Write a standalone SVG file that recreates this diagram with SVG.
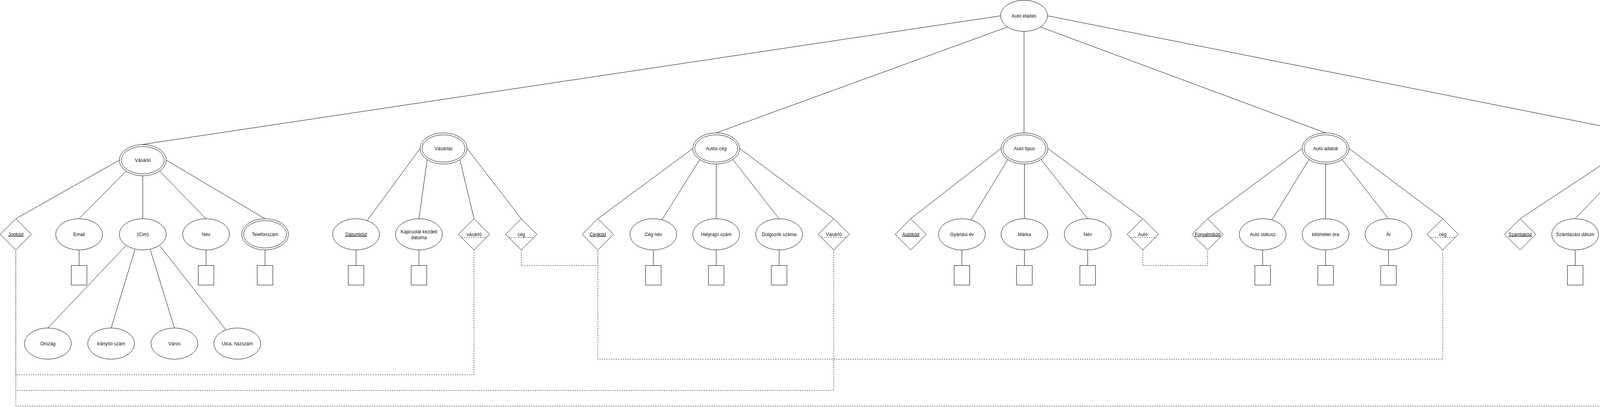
<svg xmlns="http://www.w3.org/2000/svg" width="4531" height="1043" viewBox="0 0 4531 1043">
<style>
.s{fill:#fff;stroke:#000;stroke-width:1}
.c{fill:none;stroke:#000;stroke-width:1}
.d{fill:none;stroke:#000;stroke-width:1;stroke-dasharray:3 3}
text{font-family:"Liberation Sans",Arial,Helvetica,sans-serif;font-size:12px;fill:#111;text-anchor:middle}
.u{text-decoration:underline}
</style>
<rect width="4531" height="1043" fill="#fff"/>
<g transform="translate(0.5,0.5)">
<g id="connectors">
<path class="c" d="M2561,40L362,370M2578,69L1833,340M2621,80L2621,340M2664,69L3393,340M2681,40L4213,345"/>
<path class="c" d="M305,410L40,560M322,438L202,560M365,450L365,560M408,438L527,560M425,410L678,560M202,640L202,680M527,640L527,680M678,640L678,680M321,630L122,840M345,639L284,840M384,639L446,840M409,630L578,845"/>
<path class="c" d="M1075,380L940,564M1093,409L1072,560M1177,409L1213,560M1195,380L1334,560M911,640L911,680M1072,640L1072,680"/>
<path class="c" d="M1773,380L1530,560M1791,408L1694,563M1833,420L1833,560M1876,409L1994,560M1893,380L2134,560M1672,640L1672,680M1833,640L1833,680M1994,640L1994,680"/>
<path class="c" d="M2562,380L2331,560M2579,409L2485,564M2622,420L2622,560M2665,409L2784,560M2682,380L2925,560M2462,640L2462,680M2622,640L2622,680M2784,640L2784,680"/>
<path class="c" d="M3333,380L3091,560M3350,409L3255,564M3393,420L3393,560M3436,409L3554,560M3453,380L3693,560M3232,640L3232,680M3393,640L3393,680M3554,640L3554,680"/>
<path class="c" d="M4153,387L3891,560M4171,414L4032,560M4213,425L4193,560M4256,414L4334,563M4273,387L4490,560M4032,640L4032,680M4193,640L4193,680M4354,640L4354,680"/>
<path class="d" d="M1213,640L1213,960L40,960L40,640"/>
<path class="d" d="M1334,640L1334,680L1530,680L1530,640"/>
<path class="d" d="M2134,640L2134,1000L40,1000L40,640"/>
<path class="d" d="M2925,640L2925,680L3091,680L3091,640"/>
<path class="d" d="M3693,640L3693,920L1530,920L1530,640"/>
<path class="d" d="M4490,640L4490,1040L40,1040L40,640"/>
</g>
<g id="auto-eladas"><ellipse class="s" cx="2621" cy="40" rx="60" ry="40"/><text x="2621" y="44">Autó eladás</text></g>

<g id="vasarlo"><ellipse class="s" cx="365" cy="410" rx="60" ry="40"/><ellipse class="s" cx="365" cy="410" rx="55" ry="35"/><text x="365" y="414">Vásárló</text></g>
<g id="jogkod"><path class="s" d="M40,560L80,600L40,640L0,600Z"/><text class="u" x="40" y="604">Jogkód</text></g>
<g id="email"><ellipse class="s" cx="202" cy="600" rx="60" ry="40"/><text x="202" y="604">Email</text><rect class="s" x="182" y="680" width="40" height="50"/></g>
<g id="cim"><ellipse class="s" cx="365" cy="600" rx="60" ry="40"/><text x="365" y="604">(Cím)</text></g>
<g id="nev1"><ellipse class="s" cx="527" cy="600" rx="60" ry="40"/><text x="527" y="604">Név</text><rect class="s" x="507" y="680" width="40" height="50"/></g>
<g id="telefonszam"><ellipse class="s" cx="678" cy="600" rx="60" ry="40"/><ellipse class="s" cx="678" cy="600" rx="55" ry="35"/><text x="678" y="604">Telefonszám</text><rect class="s" x="658" y="680" width="40" height="50"/></g>
<g id="orszag"><ellipse class="s" cx="122" cy="880" rx="60" ry="40"/><text x="122" y="884">Ország</text></g>
<g id="iranyitoszam"><ellipse class="s" cx="284" cy="880" rx="60" ry="40"/><text x="284" y="884">Irányító szám</text></g>
<g id="varos"><ellipse class="s" cx="446" cy="880" rx="60" ry="40"/><text x="446" y="884">Város</text></g>
<g id="utca"><ellipse class="s" cx="607" cy="880" rx="60" ry="40"/><text x="607" y="884">Utca, házszám</text></g>

<g id="vasarlas"><ellipse class="s" cx="1135" cy="380" rx="60" ry="40"/><ellipse class="s" cx="1135" cy="380" rx="55" ry="35"/><text x="1135" y="384">Vásárlás</text></g>
<g id="datumkod"><ellipse class="s" cx="911" cy="600" rx="60" ry="40"/><text class="u" x="911" y="604">Dátumkód</text><rect class="s" x="891" y="680" width="40" height="50"/></g>
<g id="kapcsolat"><ellipse class="s" cx="1072" cy="600" rx="60" ry="40"/><text x="1072" y="597">Kapcsolat kezdeti</text><text x="1072" y="612">dátuma</text><rect class="s" x="1052" y="680" width="40" height="50"/></g>
<g id="vasarlo-rel1"><path class="s" d="M1213,560L1253,600L1213,640L1173,600Z"/><text x="1213" y="604">vásárló</text><path class="d" d="M1181,608H1245"/></g>
<g id="ceg-rel1"><path class="s" d="M1334,560L1374,600L1334,640L1294,600Z"/><text x="1334" y="604">cég</text><path class="d" d="M1302,608H1366"/></g>

<g id="autos-ceg"><ellipse class="s" cx="1833" cy="380" rx="60" ry="40"/><ellipse class="s" cx="1833" cy="380" rx="55" ry="35"/><text x="1833" y="384">Autós cég</text></g>
<g id="cegkod"><path class="s" d="M1530,560L1570,600L1530,640L1490,600Z"/><text class="u" x="1530" y="604">Cégkód</text></g>
<g id="ceg-nev"><ellipse class="s" cx="1672" cy="600" rx="60" ry="40"/><text x="1672" y="604">Cég név</text><rect class="s" x="1652" y="680" width="40" height="50"/></g>
<g id="helyrajzi"><ellipse class="s" cx="1833" cy="600" rx="60" ry="40"/><text x="1833" y="604">Helyrajzi szám</text><rect class="s" x="1813" y="680" width="40" height="50"/></g>
<g id="dolgozok"><ellipse class="s" cx="1994" cy="600" rx="60" ry="40"/><text x="1994" y="604">Dolgozók száma</text><rect class="s" x="1974" y="680" width="40" height="50"/></g>
<g id="vasarlo-rel2"><path class="s" d="M2134,560L2174,600L2134,640L2094,600Z"/><text x="2134" y="604">Vásárló</text><path class="d" d="M2102,608H2166"/></g>

<g id="auto-tipus"><ellipse class="s" cx="2622" cy="380" rx="60" ry="40"/><ellipse class="s" cx="2622" cy="380" rx="55" ry="35"/><text x="2622" y="384">Autó típus</text></g>
<g id="autokod"><path class="s" d="M2331,560L2371,600L2331,640L2291,600Z"/><text class="u" x="2331" y="604">Autókód</text></g>
<g id="gyartasi-ev"><ellipse class="s" cx="2462" cy="600" rx="60" ry="40"/><text x="2462" y="604">Gyártási év</text><rect class="s" x="2442" y="680" width="40" height="50"/></g>
<g id="marka"><ellipse class="s" cx="2622" cy="600" rx="60" ry="40"/><text x="2622" y="604">Márka</text><rect class="s" x="2602" y="680" width="40" height="50"/></g>
<g id="nev2"><ellipse class="s" cx="2784" cy="600" rx="60" ry="40"/><text x="2784" y="604">Név</text><rect class="s" x="2764" y="680" width="40" height="50"/></g>
<g id="auto-rel"><path class="s" d="M2925,560L2965,600L2925,640L2885,600Z"/><text x="2925" y="604">Autó</text><path class="d" d="M2893,608H2957"/></g>

<g id="auto-adatok"><ellipse class="s" cx="3393" cy="380" rx="60" ry="40"/><ellipse class="s" cx="3393" cy="380" rx="55" ry="35"/><text x="3393" y="384">Autó adatok</text></g>
<g id="forgalmikod"><path class="s" d="M3091,560L3131,600L3091,640L3051,600Z"/><text class="u" x="3091" y="604">Forgalmikód</text></g>
<g id="auto-statusz"><ellipse class="s" cx="3232" cy="600" rx="60" ry="40"/><text x="3232" y="604">Autó státusz</text><rect class="s" x="3212" y="680" width="40" height="50"/></g>
<g id="kilometer"><ellipse class="s" cx="3393" cy="600" rx="60" ry="40"/><text x="3393" y="604">kilóméter óra</text><rect class="s" x="3373" y="680" width="40" height="50"/></g>
<g id="ar"><ellipse class="s" cx="3554" cy="600" rx="60" ry="40"/><text x="3554" y="604">Ár</text><rect class="s" x="3534" y="680" width="40" height="50"/></g>
<g id="ceg-rel2"><path class="s" d="M3693,560L3733,600L3693,640L3653,600Z"/><text x="3693" y="604">cég</text><path class="d" d="M3661,608H3725"/></g>

<g id="szamlazas"><ellipse class="s" cx="4213" cy="385" rx="60" ry="40"/><ellipse class="s" cx="4213" cy="385" rx="55" ry="35"/><text x="4213" y="389">Számlázás</text></g>
<g id="szamlakod"><path class="s" d="M3891,560L3931,600L3891,640L3851,600Z"/><text class="u" x="3891" y="604">Számlakód</text></g>
<g id="szamlazasi-datum"><ellipse class="s" cx="4032" cy="600" rx="60" ry="40"/><text x="4032" y="604">Számlázási dátum</text><rect class="s" x="4012" y="680" width="40" height="50"/></g>
<g id="vegosszeg"><ellipse class="s" cx="4193" cy="600" rx="60" ry="40"/><text x="4193" y="604">Végösszeg</text><rect class="s" x="4173" y="680" width="40" height="50"/></g>
<g id="jogositvany"><ellipse class="s" cx="4354" cy="600" rx="60" ry="40"/><text x="4354" y="604">Jogosítvány szám</text><rect class="s" x="4334" y="680" width="40" height="50"/></g>
<g id="vasarlo-rel3"><path class="s" d="M4490,560L4529,600L4490,640L4450,600Z"/><text x="4490" y="604">Vásárló</text><path class="d" d="M4458,608H4521"/></g>
</g>
</svg>
